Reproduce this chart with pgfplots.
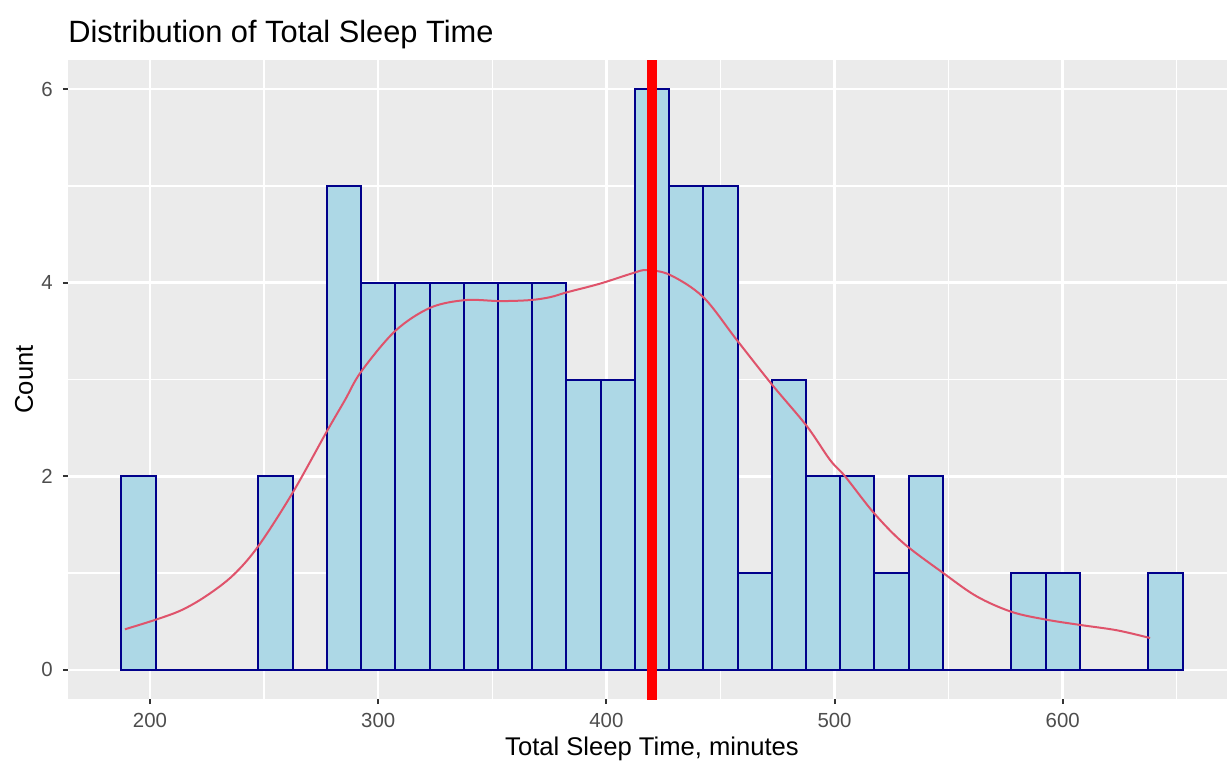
\documentclass[border=0pt]{standalone}
\usepackage{fontspec}
\setmainfont{Liberation Sans}
\usepackage{pgfplots}
\pgfplotsset{compat=1.18}
\definecolor{panelbg}{HTML}{EBEBEB}
\definecolor{barfill}{HTML}{ADD8E6}
\definecolor{barline}{HTML}{00008B}
\definecolor{dens}{HTML}{DF536B}
\definecolor{tickcol}{HTML}{333333}
\definecolor{ticklab}{HTML}{4D4D4D}
\begin{document}
\begin{tikzpicture}
\begin{axis}[
  name=ax,
  at={(0,0)}, anchor=south west,
  scale only axis,
  width=579.5pt, height=319.5pt,
  xmin=164.06, xmax=672, ymin=-0.3, ymax=6.3,
  axis background/.style={fill=panelbg},
  axis line style={draw=none},
  xtick={200,300,400,500,600},
  ytick={0,2,4,6},
  minor xtick={250,350,450,550,650},
  minor ytick={1,3,5},
  grid=both,
  major grid style={white, line width=1.3pt},
  minor grid style={white, line width=0.65pt},
  tick align=outside,
  xtick pos=lower, ytick pos=left,
  major tick length=2.5pt,
  minor tick length=0pt,
  tick style={color=tickcol, line width=1pt},
  /pgf/number format/assume math mode=true,
  xticklabel style={font=\fontsize{10.2}{12}\selectfont, text=ticklab, anchor=base, inner sep=0pt, yshift=-11.5pt},
  yticklabel style={font=\fontsize{10.2}{12}\selectfont, text=ticklab, anchor=east, inner sep=0pt, xshift=-5pt},
  clip=true,
]
\addplot[ybar interval, fill=barfill, draw=barline, line width=1pt] coordinates {
(187.5,2) (202.5,0) (217.5,0) (232.5,0) (247.5,2) (262.5,0) (277.5,5) (292.5,4)
(307.5,4) (322.5,4) (337.5,4) (352.5,4) (367.5,4) (382.5,3) (397.5,3) (412.5,6)
(427.5,5) (442.5,5) (457.5,1) (472.5,3) (487.5,2) (502.5,2) (517.5,1) (532.5,2)
(547.5,0) (562.5,0) (577.5,1) (592.5,1) (607.5,0) (622.5,0) (637.5,1) (652.5,1)
};
\addplot[smooth, tension=0.55, color=dens, line width=1pt] coordinates {
(189.0,0.42) (202.6,0.52) (214.0,0.62) (225.0,0.77) (236.5,0.98) (247.5,1.28) (262.5,1.83)
(277.4,2.46) (285.5,2.79) (292.5,3.08) (307.4,3.50) (322.7,3.74) (338.1,3.82)
(353.4,3.81) (366.5,3.82) (375.3,3.85) (382.6,3.90) (397.2,3.99) (411.8,4.10)
(417.7,4.13) (427.9,4.08) (442.5,3.85) (457.1,3.41) (472.5,2.95) (487.8,2.52)
(498.0,2.17) (504.6,2.00) (517.3,1.62) (530.2,1.31) (547.7,1.00) (562.3,0.76)
(577.6,0.60) (592.7,0.52) (607.6,0.465) (623.7,0.41) (638.3,0.33)
};
\addplot[color=red, line width=5pt] coordinates {(419.9,-0.5) (419.9,6.5)};
\coordinate (xl) at (axis cs:420,-0.3);
\end{axis}
\node[anchor=base west, inner sep=0pt, font=\fontsize{15.4}{18}\selectfont] at ([yshift=9pt]ax.north west) {Distribution of Total Sleep Time};
\node[anchor=base, inner sep=0pt, font=\fontsize{12.8}{15}\selectfont] at ([yshift=-28pt]xl) {Total Sleep Time, minutes};
\node[anchor=base, rotate=90, inner sep=0pt, font=\fontsize{12.8}{15}\selectfont] at ([xshift=-17.5pt]ax.west) {Count};
\pgfresetboundingbox
\path[use as bounding box] (-34pt,-31.5pt) rectangle (579.5pt,349.5pt);
\end{tikzpicture}
\end{document}
